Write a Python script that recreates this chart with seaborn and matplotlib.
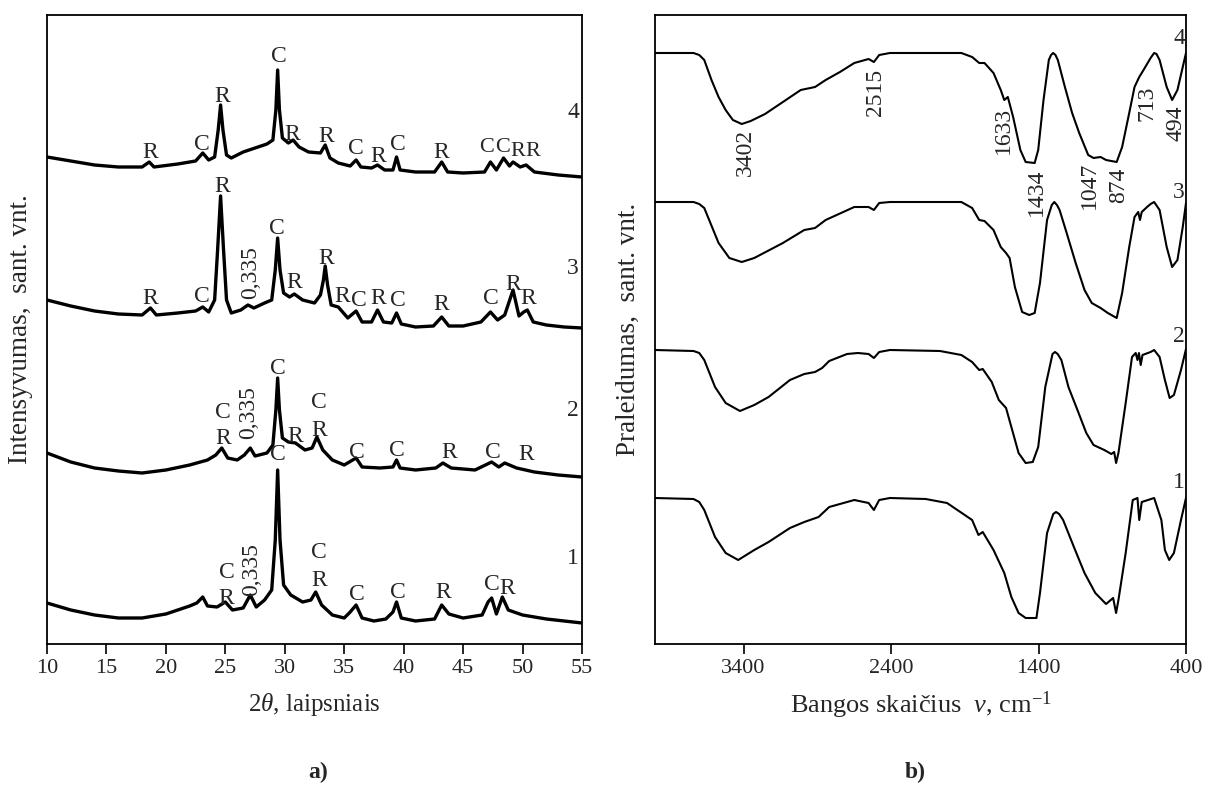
import numpy as np
import pandas as pd
import matplotlib
matplotlib.use("Agg")
import matplotlib.pyplot as plt
import seaborn as sns

# ---------------- XRD data (2theta, intensity a.u., curves stacked) ----------------
xrd_theta_4 = [10, 12, 14, 16, 18, 18.6, 19, 21, 22.5, 23.1, 23.6, 24.1, 24.4, 24.6, 24.8, 25.1, 25.5, 26.5,
               27.5, 28.5, 29.0, 29.25, 29.4, 29.55, 29.8, 30.3, 30.7, 31.2, 32.0, 33.0, 33.4, 33.8, 34.5,
               35.5, 36.0, 36.4, 37.3, 37.8, 38.4, 39.1, 39.4, 39.7, 41, 42.6, 43.2, 43.7, 45, 46.8, 47.3,
               47.8, 48.4, 48.9, 49.2, 49.8, 50.3, 51, 53, 55]
xrd_int_4 = [487, 483, 479, 477, 477, 482, 477, 480, 483, 491, 484, 487, 514, 539, 514, 489, 486, 492,
             496, 500, 504, 534, 574, 534, 506, 501, 504, 497, 492, 491, 499, 486, 481,
             478, 484, 477, 476, 479, 474, 474, 487, 474, 472, 472, 482, 472, 471, 472, 482,
             474, 486, 478, 482, 477, 479, 472, 469, 467]

xrd_theta_3 = [10, 12, 14, 16, 18, 18.7, 19.2, 21, 22.5, 23.1, 23.6, 24.1, 24.35, 24.6, 24.85, 25.1, 25.5,
               26.3, 26.9, 27.4, 28.3, 28.9, 29.2, 29.4, 29.6, 29.9, 30.4, 30.8, 31.5, 32.5, 33.0, 33.25,
               33.4, 33.6, 33.9, 34.5, 35.3, 36.0, 36.5, 37.3, 37.8, 38.3, 39.0, 39.4, 39.8, 41, 42.5,
               43.2, 43.8, 45, 46.5, 47.3, 47.9, 48.5, 49.2, 49.7, 50.1, 50.4, 50.9, 52, 53.5, 55]
xrd_int_3 = [344, 338, 333, 330, 329, 336, 329, 331, 333, 337, 332, 344, 394, 448, 394, 344, 331,
             334, 339, 336, 341, 344, 374, 406, 374, 351, 347, 350, 344, 341, 349, 364,
             378, 359, 339, 337, 326, 333, 322, 322, 334, 322, 321, 331, 320, 317, 318,
             327, 318, 318, 322, 332, 324, 329, 354, 328, 332, 334, 322, 319, 317, 316]

xrd_theta_2 = [10, 12, 14, 16, 18, 20, 22, 23.5, 24.2, 24.7, 25.2, 26.0, 26.6, 27.1, 27.5, 28.5, 29.0,
               29.25, 29.4, 29.55, 29.8, 30.3, 30.9, 31.7, 32.3, 32.7, 33.2, 34.0, 35.0, 36.0, 36.5,
               38.0, 39.1, 39.4, 39.7, 41, 42.7, 43.3, 44.0, 46, 47.4, 48.0, 48.5, 49.5, 51, 53, 55]
xrd_int_2 = [191, 182, 176, 173, 171, 174, 179, 184, 189, 196, 186, 184, 189, 196, 188, 191, 199,
             234, 266, 234, 206, 202, 201, 194, 196, 207, 194, 184, 179, 186, 177,
             176, 177, 184, 176, 174, 176, 181, 176, 174, 182, 177, 181, 176, 172, 169, 167]

xrd_theta_1 = [10, 12, 14, 16, 18, 20, 22, 22.6, 23.1, 23.5, 24.3, 25.0, 25.6, 26.5, 27.1, 27.6, 28.3,
               28.9, 29.2, 29.4, 29.6, 29.9, 30.5, 31.5, 32.2, 32.6, 33.1, 34.0, 35.0, 35.5, 36.0,
               36.5, 37.5, 38.5, 39.1, 39.4, 39.8, 41, 42.6, 43.2, 43.8, 45, 46.6, 47.1, 47.4, 47.8,
               48.3, 48.8, 50, 52, 55]
xrd_int_1 = [41, 34, 29, 26, 26, 30, 38, 41, 47, 38, 37, 42, 34, 36, 49, 37, 44,
             54, 104, 174, 104, 59, 49, 42, 44, 52, 39, 29, 26, 32, 39,
             26, 23, 25, 32, 42, 26, 23, 25, 39, 30, 26, 29, 42, 46, 30,
             47, 34, 29, 25, 21]

xrd_curve_names = ["1", "2", "3", "4"]
xrd_name_theta = [54.75, 54.75, 54.75, 54.75]
xrd_name_int = [86, 234, 376, 532]

# peak labels: (2theta, intensity, text)
xrd_lbl_theta = [18.7, 23.0, 24.7, 29.5, 30.6, 33.5, 36.0, 37.9, 39.5, 43.2, 47.0, 48.3, 49.6, 50.9,
                 18.7, 23.0, 24.7, 29.3, 30.8, 33.5, 34.8, 36.2, 37.9, 39.5, 43.2, 47.3, 49.2, 50.5,
                 24.8, 24.8, 29.4, 30.9, 32.9, 32.9, 36.1, 39.4, 43.8, 47.5, 50.3,
                 25.1, 25.1, 29.4, 32.9, 32.9, 36.1, 39.5, 43.3, 47.4, 48.7]
xrd_lbl_int = [492, 499, 547, 587, 510, 507, 495, 487, 499, 492, 496, 496, 493, 493,
               346, 347, 457, 416, 361, 385, 347, 343, 346, 343, 339, 346, 360, 346,
               232, 206, 275, 207, 242, 214, 191, 194, 191, 191, 190,
               72, 46, 189, 91, 64, 49, 51, 51, 59, 56]
xrd_lbl_text = ["R", "C", "R", "C", "R", "R", "C", "R", "C", "R", "C", "C", "R", "R",
                "R", "C", "R", "C", "R", "R", "R", "C", "R", "C", "R", "C", "R", "R",
                "C", "R", "C", "R", "C", "R", "C", "C", "R", "C", "R",
                "C", "R", "C", "C", "R", "C", "C", "R", "C", "R"]
# rotated d-spacing labels
xrd_d_theta = [27.1, 27.0, 27.2]
xrd_d_int = [371, 231, 74]
xrd_d_text = ["0,335", "0,335", "0,335"]

# ---------------- FTIR data (wavenumber, transmittance a.u., stacked) ----------------
ir_nu_4 = [4000, 3739, 3700, 3666, 3617, 3569, 3521, 3472, 3412, 3351, 3254, 3133, 3012, 2915, 2843, 2746,
           2649, 2552, 2516, 2480, 2407, 1923, 1850, 1802, 1766, 1705, 1656, 1632, 1608, 1572, 1523,
           1487, 1426, 1402, 1366, 1330, 1315, 1301, 1285, 1269, 1221, 1172, 1124, 1063, 1027, 979, 942, 870,
           833, 785, 749, 717, 688, 640, 616, 600, 579, 531, 494, 458, 422, 400]
ir_t_4 = [591, 591, 589, 584, 564, 547, 534, 524, 520, 523, 530, 542, 554, 557, 564, 572,
          581, 585, 582, 589, 591, 591, 587, 581, 581, 571, 554, 544, 547, 527, 494,
          482, 481, 494, 544, 584, 589, 591, 589, 584, 557, 531, 511, 489, 486, 487, 484, 482,
          497, 531, 557, 567, 574, 586, 591, 590, 584, 557, 544, 554, 577, 591]

ir_nu_3 = [4000, 3739, 3700, 3666, 3569, 3496, 3412, 3327, 3133, 2988, 2915, 2843, 2649, 2552, 2516, 2480,
           2407, 1923, 1850, 1802, 1766, 1705, 1656, 1620, 1596, 1560, 1511, 1463, 1426, 1390, 1342,
           1310, 1293, 1275, 1257, 1209, 1148, 1088, 1039, 979, 930, 870, 833, 785, 749, 724, 712, 700, 664,
           640, 616, 579, 531, 494, 458, 422, 400]
ir_t_3 = [442, 442, 440, 436, 401, 386, 382, 386, 401, 414, 416, 424, 437, 437, 434, 441,
          442, 442, 436, 424, 423, 414, 397, 391, 386, 357, 332, 329, 331, 361, 424,
          439, 442, 439, 434, 411, 381, 354, 341, 336, 331, 326, 351, 397, 427, 432, 424, 432, 437,
          440, 442, 434, 397, 377, 384, 417, 441]

ir_nu_2 = [4000, 3739, 3700, 3666, 3593, 3521, 3424, 3327, 3230, 3085, 2988, 2915, 2867, 2819, 2698, 2625,
           2552, 2516, 2480, 2407, 2068, 1923, 1850, 1802, 1778, 1717, 1669, 1620, 1584, 1535, 1487,
           1439, 1402, 1354, 1305, 1288, 1270, 1245, 1197, 1136, 1076, 1027, 954, 906, 887, 874, 858, 809,
           766, 741, 729, 719, 707, 695, 640, 616, 579, 543, 511, 482, 434, 400]
ir_t_2 = [294, 293, 291, 284, 257, 241, 233, 239, 247, 264, 270, 272, 276, 283, 290, 291,
          290, 286, 292, 294, 293, 289, 282, 274, 275, 262, 244, 236, 217, 191, 181,
          182, 197, 257, 290, 292, 290, 284, 257, 234, 211, 199, 194, 190, 192, 181, 191, 241,
          287, 291, 284, 291, 279, 289, 292, 294, 287, 264, 246, 249, 274, 295]

ir_nu_1 = [4000, 3739, 3700, 3666, 3593, 3521, 3436, 3327, 3230, 3085, 2988, 2891, 2819, 2649, 2552, 2516,
           2480, 2407, 2165, 2020, 1850, 1807, 1778, 1705, 1632, 1584, 1535, 1487, 1414, 1390, 1342,
           1300, 1281, 1260, 1233, 1160, 1088, 1015, 942, 894, 874, 858, 809, 761, 729, 717, 700, 616, 567,
           543, 514, 482, 434, 400]
ir_t_1 = [146, 145, 142, 134, 107, 91, 84, 94, 102, 116, 122, 127, 137, 144, 141, 134,
          144, 146, 145, 141, 124, 109, 112, 94, 71, 47, 31, 26, 26, 51, 111,
          130, 132, 130, 124, 97, 71, 51, 40, 46, 31, 44, 91, 144, 146, 124, 142, 146, 124,
          94, 84, 91, 124, 146]

ir_curve_names = ["1", "2", "3", "4"]
ir_name_nu = [447, 447, 447, 447]
ir_name_t = [162, 307, 452, 606]

ir_lbl_nu = [3387, 2504, 1637, 1414, 1056, 857, 664, 470]
ir_lbl_t = [492, 552, 514, 452, 459, 459, 541, 521]
ir_lbl_text = ["3402", "2515", "1633", "1434", "1047", "874", "713", "494"]

# ---------------- styling ----------------
sns.set_style("ticks")
plt.rcParams['font.family'] = ['Liberation Serif', 'DejaVu Serif']
plt.rcParams['mathtext.fontset'] = 'custom'
plt.rcParams['mathtext.rm'] = 'Liberation Serif'
plt.rcParams['mathtext.it'] = 'Liberation Serif:italic'
plt.rcParams['axes.linewidth'] = 1.3
FS = 17
FS_TICK = 16

W, H = 1208, 793
fig = plt.figure(figsize=(W / 100, H / 100), dpi=100)
ax1 = fig.add_axes([47 / W, (H - 644) / H, 535 / W, 629 / H])
ax2 = fig.add_axes([655 / W, (H - 644) / H, 531 / W, 629 / H])

# XRD
xrd_frames = []
for name, th, it in zip(["1", "2", "3", "4"], [xrd_theta_1, xrd_theta_2, xrd_theta_3, xrd_theta_4],
                        [xrd_int_1, xrd_int_2, xrd_int_3, xrd_int_4]):
    xrd_frames.append(pd.DataFrame({"theta": th, "I": it, "curve": name}))
xrd_df = pd.concat(xrd_frames, ignore_index=True)
sns.lineplot(data=xrd_df, x="theta", y="I", units="curve", estimator=None, sort=False,
             color="black", lw=2.4, ax=ax1, legend=False)

crowded = {10, 11, 12, 13}  # tightly packed labels of curve 4 near 47-51 degrees
for k, (t, i, s) in enumerate(zip(xrd_lbl_theta, xrd_lbl_int, xrd_lbl_text)):
    ax1.text(t, i, s, ha="center", va="center", fontsize=(16 if k in crowded else FS))
for t, i, s in zip(xrd_d_theta, xrd_d_int, xrd_d_text):
    ax1.text(t, i, s, ha="center", va="center", fontsize=FS, rotation=90)
for t, i, s in zip(xrd_name_theta, xrd_name_int, xrd_curve_names):
    ax1.text(t, i, s, ha="right", va="center", fontsize=FS)

ax1.set_xlim(10, 55)
ax1.set_ylim(0, 629)
ax1.set_xticks(np.arange(10, 56, 5))
ax1.set_yticks([])
ax1.set_xlabel(r"2$\theta$, laipsniais", fontsize=18, labelpad=9)
ax1.set_ylabel("Intensyvumas,  sant. vnt.", fontsize=19.5, labelpad=10)

# FTIR
ir_frames = []
for name, nu, t in zip(["1", "2", "3", "4"], [ir_nu_1, ir_nu_2, ir_nu_3, ir_nu_4],
                       [ir_t_1, ir_t_2, ir_t_3, ir_t_4]):
    ir_frames.append(pd.DataFrame({"nu": nu, "T": t, "curve": name}))
ir_df = pd.concat(ir_frames, ignore_index=True)
sns.lineplot(data=ir_df, x="nu", y="T", units="curve", estimator=None, sort=False,
             color="black", lw=1.5, ax=ax2, legend=False)

for n, t, s in zip(ir_lbl_nu, ir_lbl_t, ir_lbl_text):
    ax2.text(n, t, s, ha="center", va="center", fontsize=FS, rotation=90)
for n, t, s in zip(ir_name_nu, ir_name_t, ir_curve_names):
    ax2.text(n, t, s, ha="center", va="center", fontsize=FS)

ax2.set_xlim(4000, 400)
ax2.set_ylim(0, 629)
ax2.set_xticks([3400, 2400, 1400, 400])
ax2.set_yticks([])
ax2.set_xlabel(r"Bangos skaičius  $\nu$, cm$^{\mathregular{-1}}$", fontsize=19, labelpad=8)
ax2.set_ylabel("Praleidumas,  sant. vnt.", fontsize=19.5, labelpad=10)

for ax in (ax1, ax2):
    ax.tick_params(axis="x", direction="out", length=7, width=1.2, labelsize=FS_TICK, pad=4, color="black")
    for sp in ax.spines.values():
        sp.set_visible(True)
        sp.set_color("black")

fig.text(318 / W, 1 - 772 / H, "a)", fontsize=FS, fontweight="bold", ha="center", va="center")
fig.text(915 / W, 1 - 772 / H, "b)", fontsize=FS, fontweight="bold", ha="center", va="center")

fig.savefig("out.png", dpi=100)
